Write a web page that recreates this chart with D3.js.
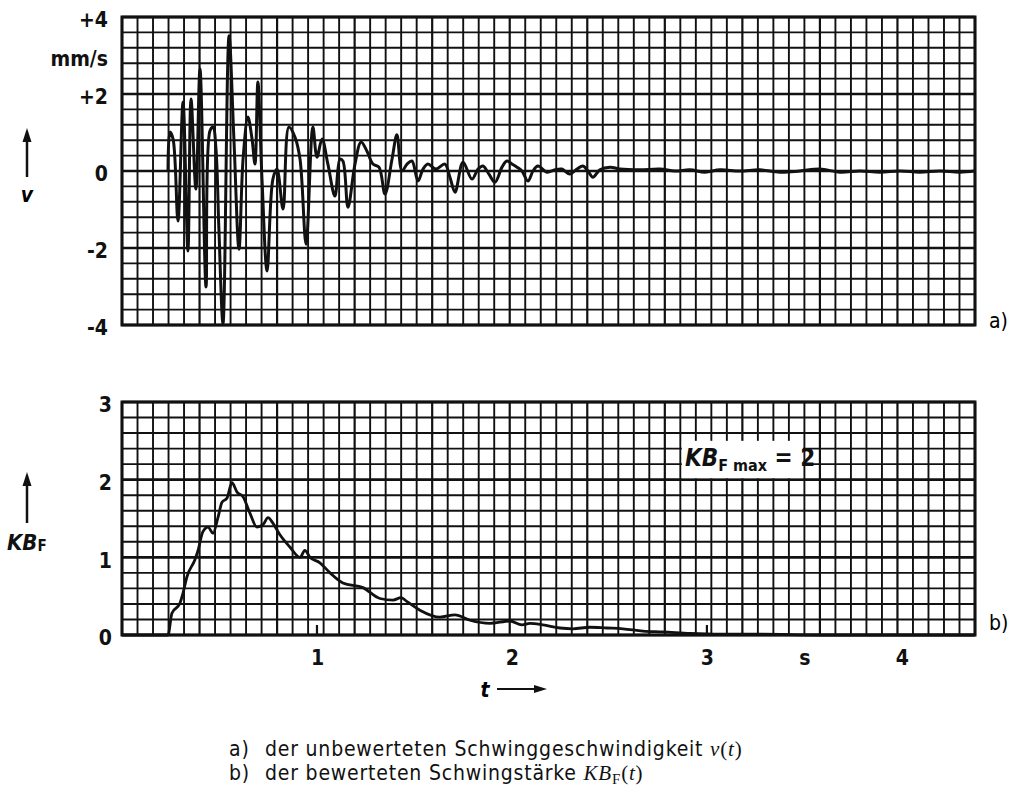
<!DOCTYPE html>
<html>
<head>
<meta charset="utf-8">
<script src="https://cdn.jsdelivr.net/npm/d3@7"></script>
<style>
body { margin: 0; background: #fff; }
svg { display: block; }
</style>
</head>
<body>
<div id="chart"></div>
<script>
// v(t) - unweighted vibration velocity, mm/s
var vTime = [0.236, 0.246, 0.262, 0.287, 0.313, 0.338, 0.354, 0.379, 0.400, 0.431,
	0.451, 0.467, 0.482, 0.497, 0.518, 0.549, 0.574, 0.600, 0.621, 0.646,
	0.667, 0.682, 0.697, 0.718, 0.744, 0.774, 0.795, 0.826, 0.856, 0.887,
	0.913, 0.944, 0.979, 1.000, 1.026, 1.056, 1.092, 1.118, 1.133, 1.159,
	1.195, 1.226, 1.256, 1.287, 1.318, 1.349, 1.385, 1.410, 1.436, 1.462,
	1.487, 1.518, 1.544, 1.569, 1.610, 1.656, 1.682, 1.708, 1.749, 1.795,
	1.826, 1.851, 1.882, 1.913, 1.949, 1.974, 2.000, 2.026, 2.051, 2.082,
	2.108, 2.133, 2.179, 2.221, 2.256, 2.297, 2.333, 2.364, 2.390, 2.415,
	2.451, 2.503, 2.554, 2.656, 2.759, 2.836, 2.913, 2.990, 3.067, 3.169,
	3.272, 3.374, 3.477, 3.579, 3.682, 3.785, 3.887, 3.990, 4.092, 4.195,
	4.297, 4.374];
var vValue = [0, 1.01, 0.83, -1.30, 1.79, -2.08, 1.87, -0.47, 2.65, -3.01,
	1.04, 1.14, 0.57, -1.51, -3.97, 3.51, 0.83, -2.03, 0.31, 1.40,
	0.83, 0.18, 2.31, -0.21, -2.60, -0.21, 0.05, -0.99, 1.14, 0.88,
	0.31, -1.90, 1.14, 0.36, 0.83, 0.18, -0.65, 0.31, 0.26, -0.94,
	0.18, 0.75, 0.52, 0.18, 0.10, -0.60, 0.31, 0.94, 0.00, 0.18,
	0.26, -0.26, 0.05, 0.18, 0.05, 0.18, -0.16, -0.55, 0.23, -0.21,
	0.05, 0.13, -0.08, -0.29, 0.10, 0.26, 0.18, 0.10, 0.00, -0.26,
	0.00, 0.13, -0.03, 0.03, 0.05, -0.08, 0.05, 0.13, 0.00, -0.16,
	0.03, 0.10, 0.05, 0.03, 0.05, 0.00, 0.03, -0.03, 0.03, 0.00,
	0.03, -0.03, 0.00, 0.05, -0.03, 0.00, -0.03, 0.00, -0.03, 0.00,
	-0.03, 0.00];

// KB_F(t) - weighted vibration intensity
var kbTime = [0, 0.236, 0.256, 0.297, 0.313, 0.333, 0.374, 0.390, 0.415, 0.441,
	0.467, 0.492, 0.513, 0.538, 0.564, 0.590, 0.621, 0.656, 0.692, 0.723,
	0.749, 0.774, 0.810, 0.862, 0.913, 0.938, 0.964, 1.015, 1.067, 1.133,
	1.236, 1.323, 1.390, 1.431, 1.462, 1.528, 1.631, 1.708, 1.785, 1.887,
	1.990, 2.051, 2.092, 2.159, 2.246, 2.313, 2.400, 2.487, 2.569, 2.672,
	2.774, 2.913, 3.067, 3.272, 3.579, 4.374];
var kbValue = [0, 0, 0.28, 0.41, 0.54, 0.75, 0.97, 1.09, 1.33, 1.39,
	1.31, 1.51, 1.71, 1.76, 1.96, 1.84, 1.78, 1.57, 1.39, 1.42,
	1.51, 1.44, 1.29, 1.13, 1.00, 1.09, 1.00, 0.93, 0.80, 0.67,
	0.61, 0.47, 0.45, 0.48, 0.43, 0.32, 0.23, 0.26, 0.19, 0.15,
	0.18, 0.13, 0.15, 0.13, 0.09, 0.08, 0.10, 0.09, 0.08, 0.05,
	0.04, 0.02, 0.01, 0.01, 0, 0];

// tick labels
var vTickValues = [4, 3, 2, 0, -2, -4];
var vTickLabels = ["+4", "mm/s", "+2", "0", "-2", "-4"];
var kbTickValues = [0, 1, 2, 3];
var kbTickLabels = ["0", "1", "2", "3"];
var tTickValues = [1, 2, 3, 3.5, 4];
var tTickLabels = ["1", "2", "3", "s", "4"];

function init() {
	var w = 1012;
	var h = 795;
	var left = 122, right = 975;
	var top1 = 17, bottom1 = 325;
	var top2 = 402, bottom2 = 635;
	var ink = "#111";
	var labelFont = "'DejaVu Sans Condensed', 'DejaVu Sans', sans-serif";
	var textFont = "'DejaVu Sans Condensed', 'Liberation Sans', sans-serif";
	var serif = "'Liberation Serif', serif";

	var svg = d3.select("#chart")
				.append("svg")
				.attr("width", w)
				.attr("height", h);

	//Scales
	var xScale = d3.scaleLinear()
				.domain([0, 4.375])
				.range([left, right]);
	var gridX = d3.scaleLinear()	//recorder paper: 55 cells across
				.domain([0, 55])
				.range([left, right]);
	var yScale1 = d3.scaleLinear()
				.domain([-4, 4])
				.range([bottom1, top1]);
	var yScale2 = d3.scaleLinear()
				.domain([0, 3])
				.range([bottom2, top2]);

	//Grid paper
	function drawGrid(yScale, rows, step, y0) {
		var g = svg.append("g").attr("stroke", ink);
		g.selectAll("line.vg")
			.data(d3.range(56))
			.enter()
			.append("line")
			.attr("x1", function(d) { return gridX(d); })
			.attr("x2", function(d) { return gridX(d); })
			.attr("y1", yScale.range()[0])
			.attr("y2", yScale.range()[1])
			.attr("stroke-width", function(d) { return d % 5 == 0 ? 2.2 : 1.9; });
		g.selectAll("line.hg")
			.data(d3.range(rows + 1))
			.enter()
			.append("line")
			.attr("x1", left)
			.attr("x2", right)
			.attr("y1", function(d) { return yScale(y0 + d * step); })
			.attr("y2", function(d) { return yScale(y0 + d * step); })
			.attr("stroke-width", function(d) { return d % 5 == 0 ? 2.6 : 1.9; });
		svg.append("rect")
			.attr("x", left)
			.attr("y", yScale.range()[1])
			.attr("width", right - left)
			.attr("height", yScale.range()[0] - yScale.range()[1])
			.attr("fill", "none")
			.attr("stroke", ink)
			.attr("stroke-width", 3);
	}
	drawGrid(yScale1, 20, 0.4, -4);
	drawGrid(yScale2, 15, 0.2, 0);

	//Box for KB_Fmax note (covers grid)
	svg.append("rect")
		.attr("x", gridX(36) + 1.5)
		.attr("y", yScale2(2.5))
		.attr("width", gridX(44) - gridX(36) - 3)
		.attr("height", yScale2(2) - yScale2(2.5) - 1.5)
		.attr("fill", "#fff");

	//small ticks on the time axis
	svg.selectAll("line.tk")
		.data([1, 3])
		.enter()
		.append("line")
		.attr("x1", function(d) { return xScale(d); })
		.attr("x2", function(d) { return xScale(d); })
		.attr("y1", bottom2)
		.attr("y2", bottom2 - 10)
		.attr("stroke", ink)
		.attr("stroke-width", 2.2);

	//Traces
	var line1 = d3.line()
		.x(function(d, i) { return xScale(vTime[i]); })
		.y(function(d) { return yScale1(d); })
		.curve(d3.curveCatmullRom.alpha(0.5));
	svg.append("path")
		.datum(vValue)
		.attr("d", line1)
		.attr("fill", "none")
		.attr("stroke", ink)
		.attr("stroke-width", 3)
		.attr("stroke-linejoin", "round");

	var line2 = d3.line()
		.x(function(d, i) { return xScale(kbTime[i]); })
		.y(function(d) { return yScale2(d); })
		.curve(d3.curveMonotoneX);
	svg.append("path")
		.datum(kbValue)
		.attr("d", line2)
		.attr("fill", "none")
		.attr("stroke", ink)
		.attr("stroke-width", 2.8)
		.attr("stroke-linejoin", "round");

	//Axes
	var yAxis1 = d3.axisLeft(yScale1)
		.tickValues(vTickValues)
		.tickSize(0)
		.tickPadding(14)
		.tickFormat(function(d, i) { return vTickLabels[i]; });
	var yAxis2 = d3.axisLeft(yScale2)
		.tickValues(kbTickValues)
		.tickSize(0)
		.tickPadding(10)
		.tickFormat(function(d, i) { return kbTickLabels[i]; });
	var xAxis = d3.axisBottom(xScale)
		.tickValues(tTickValues)
		.tickSize(0)
		.tickPadding(15)
		.tickFormat(function(d, i) { return tTickLabels[i]; });

	[svg.append("g").attr("transform", "translate(" + left + ",3)").call(yAxis1),
	 svg.append("g").attr("transform", "translate(" + left + ",3)").call(yAxis2),
	 svg.append("g").attr("transform", "translate(0," + bottom2 + ")").call(xAxis)]
	.forEach(function(ax) {
		ax.select(".domain").remove();
		ax.selectAll("text")
			.attr("fill", ink)
			.style("font-family", labelFont)
			.style("font-weight", "bold")
			.style("font-size", "21px");
	});

	//Axis titles with arrows
	function upArrow(x, y1, y2) {
		svg.append("line")
			.attr("x1", x).attr("x2", x)
			.attr("y1", y1).attr("y2", y2 + 10)
			.attr("stroke", ink)
			.attr("stroke-width", 2.5);
		svg.append("path")
			.attr("d", "M" + (x - 4.5) + "," + (y2 + 14) + "L" + x + "," + y2 + "L" + (x + 4.5) + "," + (y2 + 14) + "Z")
			.attr("fill", ink);
	}
	upArrow(27, 177, 128);
	upArrow(27, 523, 472);

	svg.append("text")
		.attr("x", 27)
		.attr("y", 202)
		.attr("text-anchor", "middle")
		.style("font-family", labelFont)
		.style("font-weight", "bold")
		.style("font-style", "italic")
		.style("font-size", "21px")
		.text("v");

	var kb = svg.append("text")
		.attr("x", 7)
		.attr("y", 550)
		.style("font-family", labelFont)
		.style("font-weight", "bold")
		.style("font-size", "22px")
		.attr("fill", ink);
	kb.append("tspan").style("font-style", "italic").text("KB");
	kb.append("tspan").attr("dy", 1).style("font-size", "15px").text("F");

	//t arrow
	svg.append("text")
		.attr("x", 485)
		.attr("y", 697)
		.attr("text-anchor", "middle")
		.style("font-family", labelFont)
		.style("font-weight", "bold")
		.style("font-style", "italic")
		.style("font-size", "21px")
		.text("t");
	svg.append("line")
		.attr("x1", 497).attr("x2", 536)
		.attr("y1", 689).attr("y2", 689)
		.attr("stroke", ink)
		.attr("stroke-width", 2.2);
	svg.append("path")
		.attr("d", "M534,685L547,689L534,693Z")
		.attr("fill", ink);

	//KB_Fmax note
	var note = svg.append("text")
		.attr("x", 685)
		.attr("y", 466)
		.style("font-family", labelFont)
		.style("font-weight", "bold")
		.style("font-size", "24px")
		.attr("fill", ink);
	note.append("tspan").style("font-style", "italic").text("KB");
	note.append("tspan").attr("dy", 5).style("font-size", "16px").text("F max");
	note.append("tspan").attr("dy", -5).text(" = 2");

	//panel letters
	svg.append("text")
		.attr("x", 989).attr("y", 328)
		.style("font-family", labelFont)
		.style("font-size", "21px")
		.text("a)");
	svg.append("text")
		.attr("x", 989).attr("y", 630)
		.style("font-family", labelFont)
		.style("font-size", "21px")
		.text("b)");

	//Caption
	var cap1 = svg.append("text")
		.attr("x", 229).attr("y", 756)
		.style("font-family", textFont)
		.style("font-size", "21px")
		.style("letter-spacing", "0.8px")
		.attr("fill", ink);
	cap1.append("tspan").text("a)");
	cap1.append("tspan").attr("x", 265).text("der unbewerteten Schwinggeschwindigkeit ");
	cap1.append("tspan").style("font-family", serif).style("font-style", "italic").text("v");
	cap1.append("tspan").style("font-family", serif).text("(");
	cap1.append("tspan").style("font-family", serif).style("font-style", "italic").text("t");
	cap1.append("tspan").style("font-family", serif).text(")");

	var cap2 = svg.append("text")
		.attr("x", 229).attr("y", 780)
		.style("font-family", textFont)
		.style("font-size", "21px")
		.style("letter-spacing", "0.8px")
		.attr("fill", ink);
	cap2.append("tspan").text("b)");
	cap2.append("tspan").attr("x", 265).text("der bewerteten Schwingstärke ");
	cap2.append("tspan").style("font-family", serif).style("font-style", "italic").text("KB");
	cap2.append("tspan").attr("dy", 4).style("font-family", serif).style("font-size", "15px").text("F");
	cap2.append("tspan").attr("dy", -4).style("font-family", serif).text("(");
	cap2.append("tspan").style("font-family", serif).style("font-style", "italic").text("t");
	cap2.append("tspan").style("font-family", serif).text(")");
}
window.onload = init;
</script>
</body>
</html>
